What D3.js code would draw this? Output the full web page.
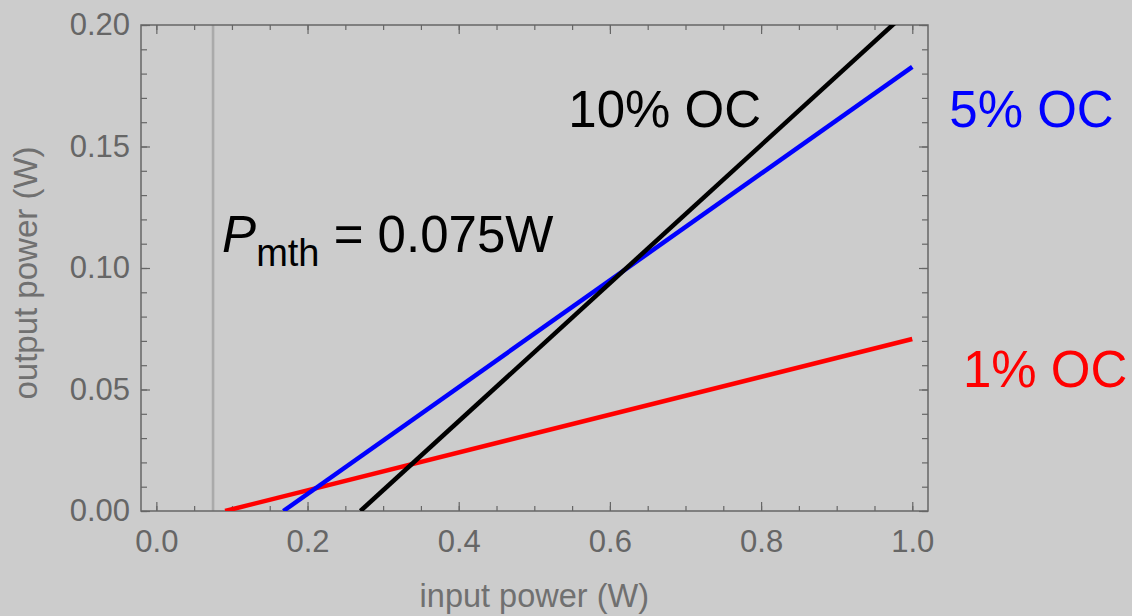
<!DOCTYPE html>
<html>
<head>
<meta charset="utf-8">
<script src="https://cdn.jsdelivr.net/npm/d3@7"></script>
<style>
  html, body { margin: 0; padding: 0; background: #cccccc; }
  svg { display: block; font-family: "Liberation Sans", Arial, sans-serif; }
</style>
</head>
<body>
<div id="wrapper"></div>
<script>
// data
const seriesNames = ["1% OC", "5% OC", "10% OC"]
const seriesColors = ["#ff0000", "#0000ff", "#000000"]
// each series is a straight line: [input, output] at threshold and at the right end
const redPoints = [[0.091, 0], [1.0, 0.0708]]
const bluePoints = [[0.168, 0], [1.0, 0.1828]]
const blackPoints = [[0.27, 0], [1.0, 0.2074]]
const thresholdX = 0.075
const xMajorTicks = [0.0, 0.2, 0.4, 0.6, 0.8, 1.0]
const yMajorTicks = [0.00, 0.05, 0.10, 0.15, 0.20]
// annotation anchors in data units
const labelX = [1.067, 1.049, 0.545]
const labelY = [0.0511, 0.158, 0.158]
const thresholdLabelPos = [0.087, 0.1067]

async function drawChart() {
  const series = [redPoints, bluePoints, blackPoints]

  let dimensions = {
    width: 1132,
    height: 616,
    margin: { top: 25, bottom: 105, left: 141, right: 204 }
  }
  dimensions.boundedWidth = dimensions.width - dimensions.margin.left - dimensions.margin.right
  dimensions.boundedHeight = dimensions.height - dimensions.margin.top - dimensions.margin.bottom

  const svg = d3.select("#wrapper")
    .append("svg")
      .attr("width", dimensions.width)
      .attr("height", dimensions.height)
  svg.append("rect")
      .attr("width", dimensions.width)
      .attr("height", dimensions.height)
      .attr("fill", "#cccccc")

  const bounds = svg.append("g")
      .attr("transform", `translate(${dimensions.margin.left},${dimensions.margin.top})`)

  // scales
  const xScale = d3.scaleLinear()
      .domain([-0.0203, 1.0208])
      .range([0, dimensions.boundedWidth])
  const yScale = d3.scaleLinear()
      .domain([0, 0.2])
      .range([dimensions.boundedHeight, 0])

  bounds.append("clipPath")
      .attr("id", "plotClip")
    .append("rect")
      .attr("width", dimensions.boundedWidth)
      .attr("height", dimensions.boundedHeight)

  // threshold line
  bounds.append("line")
      .attr("x1", xScale(thresholdX))
      .attr("x2", xScale(thresholdX))
      .attr("y1", 0)
      .attr("y2", dimensions.boundedHeight)
      .attr("stroke", "#aaaaaa")
      .attr("stroke-width", 2.6)

  // axes (ticks point inward, on all four sides)
  const tickColor = "#666666"
  const styleAxis = g => {
    g.select(".domain").remove()
    g.selectAll(".tick line").attr("stroke", tickColor).attr("stroke-width", 1.2)
    g.selectAll(".tick text")
      .attr("fill", "#666666")
      .style("font-size", "31px")
  }
  const xMinor = d3.range(0, 1.0001, 0.05)
  const yMinor = d3.range(0, 0.2001, 0.01)

  bounds.append("g")
      .attr("transform", `translate(0,${dimensions.boundedHeight})`)
      .call(d3.axisBottom(xScale).tickValues(xMinor).tickSize(-5).tickFormat(""))
      .call(styleAxis)
  bounds.append("g")
      .attr("transform", `translate(0,${dimensions.boundedHeight})`)
      .call(d3.axisBottom(xScale).tickValues(xMajorTicks).tickSize(-9).tickPadding(19).tickFormat(d3.format(".1f")))
      .call(styleAxis)
  bounds.append("g")
      .call(d3.axisTop(xScale).tickValues(xMinor).tickSize(-5).tickFormat(""))
      .call(styleAxis)
  bounds.append("g")
      .call(d3.axisTop(xScale).tickValues(xMajorTicks).tickSize(-9).tickFormat(""))
      .call(styleAxis)

  bounds.append("g")
      .call(d3.axisLeft(yScale).tickValues(yMinor).tickSize(-6).tickFormat(""))
      .call(styleAxis)
  bounds.append("g")
      .call(d3.axisLeft(yScale).tickValues(yMajorTicks).tickSize(-9).tickPadding(11).tickFormat(d3.format(".2f")))
      .call(styleAxis)
  bounds.append("g")
      .attr("transform", `translate(${dimensions.boundedWidth},0)`)
      .call(d3.axisRight(yScale).tickValues(yMinor).tickSize(-6).tickFormat(""))
      .call(styleAxis)
  bounds.append("g")
      .attr("transform", `translate(${dimensions.boundedWidth},0)`)
      .call(d3.axisRight(yScale).tickValues(yMajorTicks).tickSize(-9).tickFormat(""))
      .call(styleAxis)

  // frame
  bounds.append("rect")
      .attr("width", dimensions.boundedWidth)
      .attr("height", dimensions.boundedHeight)
      .attr("fill", "none")
      .attr("stroke", "#666666")
      .attr("stroke-width", 1.5)

  // lines
  const lineGenerator = d3.line()
      .x(d => xScale(d[0]))
      .y(d => yScale(d[1]))
  bounds.append("g")
      .attr("clip-path", "url(#plotClip)")
    .selectAll("path")
    .data(series)
    .join("path")
      .attr("d", lineGenerator)
      .attr("fill", "none")
      .attr("stroke", (d, i) => seriesColors[i])
      .attr("stroke-width", 4.5)

  // series labels
  bounds.selectAll(".series-label")
    .data(seriesNames)
    .join("text")
      .attr("class", "series-label")
      .attr("x", (d, i) => xScale(labelX[i]))
      .attr("y", (d, i) => yScale(labelY[i]))
      .text(d => d)
      .attr("fill", (d, i) => seriesColors[i])
      .style("font-size", "51px")

  // threshold label
  const pLabel = bounds.append("text")
      .attr("x", xScale(thresholdLabelPos[0]))
      .attr("y", yScale(thresholdLabelPos[1]))
      .attr("fill", "#000000")
      .style("font-size", "51px")
  pLabel.append("tspan").style("font-style", "italic").text("P")
  pLabel.append("tspan").attr("dy", 14).style("font-size", "38px").text("mth")
  pLabel.append("tspan").attr("dy", -14).text(" = 0.075W")

  // axis titles
  svg.append("text")
      .attr("x", dimensions.margin.left + (xScale(0.5)))
      .attr("y", 607)
      .attr("text-anchor", "middle")
      .attr("fill", "#707070")
      .style("font-size", "32.5px")
      .text("input power (W)")
  svg.append("text")
      .attr("transform", `translate(37,${dimensions.margin.top + dimensions.boundedHeight / 2 + 5}) rotate(-90)`)
      .attr("text-anchor", "middle")
      .attr("fill", "#707070")
      .style("font-size", "33px")
      .text("output power (W)")
}
drawChart()
</script>
</body>
</html>
